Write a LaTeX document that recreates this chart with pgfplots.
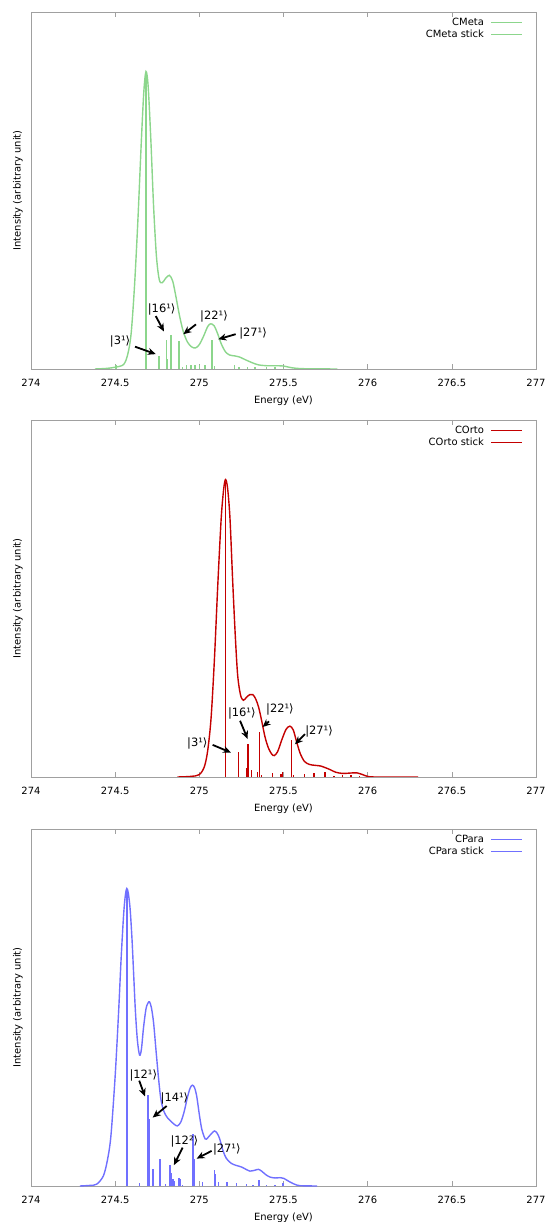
\documentclass[border=0pt]{standalone}
\usepackage{fontspec}
\setmainfont{DejaVu Sans}
\usepackage{pgfplots}
\pgfplotsset{compat=1.18}
\usetikzlibrary{arrows.meta}

\definecolor{cmeta}{RGB}{140,214,140}
\definecolor{corto}{RGB}{196,0,0}
\definecolor{cpara}{RGB}{112,112,255}
\definecolor{frame}{RGB}{160,160,160}

\pgfplotsset{
  panel/.style={
    scale only axis, width=505bp, height=357bp,
    xmin=274, xmax=277, ymin=0, ymax=1.2,
    xtick={274,274.5,275,275.5,276,276.5,277},
    xticklabels={274,274.5,275,275.5,276,276.5,277},
    ytick=\empty,
    tick align=inside, major tick length=5bp,
    axis line style={frame}, every tick/.style={frame},
    tick label style={font=\fontsize{10}{12}\selectfont},
    label style={font=\fontsize{10}{12}\selectfont},
    xticklabel style={anchor=center, yshift=-13.5bp, text height=7.3bp, text depth=0pt, inner sep=0pt},
    xlabel={Energy (eV)}, ylabel={Intensity (arbitrary unit)},
    xlabel style={at={(axis description cs:0.5,-0.09)}, anchor=center},
    ylabel style={at={(axis description cs:-0.026,0.5)}, anchor=center},
    legend plot pos=right, legend cell align=right,
    legend style={draw=none, fill=none, font=\fontsize{10}{12}\selectfont,
      at={(axis description cs:1,1)}, anchor=north east, xshift=-13bp, yshift=-5bp,
      inner sep=0pt, row sep=0.6bp, column sep=6bp,
      nodes={inner sep=0.5bp, text height=8bp, text depth=2bp}},
    legend image code/.code={\draw[#1] (0bp,0bp) -- (31bp,0bp);},
  },
  curve/.style={smooth, line width=1.4bp},
  stick/.style={ycomb, mark=none, line width=1.5bp},
}
\tikzset{
  ann/.style={-{Stealth[length=8bp,width=7bp]}, line width=1.8bp, black},
  lab/.style={inner sep=0pt, black, font=\fontsize{11.5}{13}\selectfont},
}

\begin{document}
\begin{tikzpicture}
\useasboundingbox (0,0) rectangle (546bp,1222bp);

% ---- CMeta
\begin{axis}[panel, at={(31bp,853bp)}, anchor=south west]
\addplot[curve, draw=cmeta, forget plot] coordinates {
(274.38,0) (274.45,0.002) (274.50,0.006) (274.55,0.015) (274.575,0.05)
(274.595,0.12) (274.615,0.28) (274.635,0.50) (274.655,0.76) (274.670,0.93)
(274.683,1.0) (274.696,0.95) (274.712,0.77) (274.728,0.55) (274.745,0.38)
(274.762,0.30) (274.78,0.29) (274.80,0.305) (274.822,0.315) (274.842,0.295)
(274.862,0.24) (274.882,0.18) (274.905,0.125) (274.93,0.09) (274.955,0.074)
(274.978,0.071) (275.00,0.082) (275.025,0.11) (275.05,0.143) (275.068,0.152)
(275.088,0.145) (275.108,0.12) (275.13,0.085) (275.155,0.058) (275.18,0.047)
(275.21,0.044) (275.24,0.040) (275.27,0.032) (275.31,0.022) (275.35,0.014)
(275.40,0.011) (275.45,0.011) (275.50,0.010) (275.55,0.004) (275.62,0.001)
(275.82,0)};
\addplot[stick, draw=cmeta, forget plot] coordinates {
(274.506,0.012) (274.683,0.99) (274.759,0.045) (274.806,0.098) (274.812,0.035)
(274.833,0.113) (274.880,0.095) (274.90,0.008) (274.925,0.012) (274.95,0.012)
(274.975,0.015) (275.00,0.012) (275.035,0.012) (275.075,0.098) (275.09,0.01)
(275.21,0.012) (275.235,0.008) (275.285,0.008) (275.33,0.006) (275.40,0.008)
(275.45,0.006) (275.50,0.005) (275.58,0.004)};
\addlegendimage{draw=cmeta, line width=1.4bp}
\addlegendentry{CMeta}
\addlegendimage{draw=cmeta, line width=1.4bp}
\addlegendentry{CMeta stick}
\node[lab] at (axis cs:274.529,0.092) {|3¹⟩};
\draw[ann] (axis cs:274.618,0.075) -- (axis cs:274.741,0.05);
\node[lab] at (axis cs:274.776,0.199) {|16¹⟩};
\draw[ann] (axis cs:274.741,0.178) -- (axis cs:274.79,0.126);
\node[lab] at (axis cs:275.087,0.176) {|22¹⟩};
\draw[ann] (axis cs:274.98,0.15) -- (axis cs:274.905,0.117);
\node[lab] at (axis cs:275.319,0.118) {|27¹⟩};
\draw[ann] (axis cs:275.216,0.117) -- (axis cs:275.113,0.1);
\end{axis}

% ---- COrto
\begin{axis}[panel, at={(31bp,445bp)}, anchor=south west]
\addplot[curve, draw=corto, forget plot] coordinates {
(274.87,0) (274.95,0.002) (275.00,0.008) (275.03,0.035) (275.05,0.09)
(275.07,0.20) (275.09,0.40) (275.11,0.65) (275.13,0.87) (275.145,0.97)
(275.156,1.0) (275.168,0.97) (275.182,0.87) (275.198,0.66) (275.214,0.47)
(275.228,0.34) (275.245,0.275) (275.262,0.258) (275.28,0.268) (275.30,0.277)
(275.318,0.277) (275.335,0.262) (275.352,0.235) (275.37,0.19) (275.39,0.135)
(275.41,0.098) (275.43,0.077) (275.445,0.072) (275.465,0.085) (275.49,0.125)
(275.515,0.16) (275.538,0.171) (275.558,0.158) (275.578,0.118) (275.60,0.078)
(275.625,0.052) (275.655,0.042) (275.69,0.039) (275.72,0.037) (275.75,0.031)
(275.78,0.024) (275.81,0.016) (275.85,0.012) (275.89,0.013) (275.935,0.014)
(275.97,0.008) (276.00,0.002) (276.05,0) (276.30,0)};
\addplot[stick, draw=corto, forget plot] coordinates {
(275.156,0.99) (275.232,0.083) (275.281,0.03) (275.289,0.111) (275.311,0.025)
(275.345,0.016) (275.356,0.15) (275.37,0.008) (275.436,0.013) (275.485,0.01)
(275.495,0.016) (275.547,0.126) (275.56,0.008) (275.626,0.011) (275.681,0.014)
(275.747,0.017) (275.80,0.005) (275.85,0.006) (275.90,0.006) (275.95,0.004)};
\addlegendimage{draw=corto, line width=1.4bp}
\addlegendentry{COrto}
\addlegendimage{draw=corto, line width=1.4bp}
\addlegendentry{COrto stick}
\node[lab] at (axis cs:274.988,0.113) {|3¹⟩};
\draw[ann] (axis cs:275.079,0.108) -- (axis cs:275.188,0.082);
\node[lab] at (axis cs:275.252,0.214) {|16¹⟩};
\draw[ann] (axis cs:275.242,0.189) -- (axis cs:275.287,0.128);
\node[lab] at (axis cs:275.479,0.227) {|22¹⟩};
\draw[ann] (axis cs:275.414,0.187) -- (axis cs:275.376,0.168);
\node[lab] at (axis cs:275.711,0.153) {|27¹⟩};
\draw[ann] (axis cs:275.628,0.144) -- (axis cs:275.568,0.11);
\end{axis}

% ---- CPara
\begin{axis}[panel, at={(31bp,36bp)}, anchor=south west]
\addplot[curve, draw=cpara, forget plot] coordinates {
(274.29,0) (274.35,0.002) (274.39,0.006) (274.43,0.034) (274.455,0.09)
(274.475,0.17) (274.50,0.37) (274.52,0.58) (274.535,0.76) (274.55,0.91)
(274.56,0.975) (274.569,1.0) (274.578,0.985) (274.589,0.93) (274.60,0.83)
(274.61,0.71) (274.62,0.59) (274.632,0.49) (274.645,0.44) (274.656,0.46)
(274.668,0.53) (274.683,0.595) (274.695,0.615) (274.704,0.619) (274.715,0.60)
(274.728,0.55) (274.742,0.46) (274.758,0.36) (274.772,0.29) (274.79,0.25)
(274.81,0.23) (274.83,0.218) (274.852,0.207) (274.87,0.202) (274.89,0.215)
(274.91,0.25) (274.93,0.30) (274.946,0.33) (274.959,0.339) (274.972,0.33)
(274.985,0.30) (275.00,0.24) (275.015,0.19) (275.035,0.158) (275.05,0.162)
(275.07,0.175) (275.09,0.185) (275.105,0.178) (275.12,0.16) (275.14,0.12)
(275.16,0.093) (275.19,0.076) (275.22,0.069) (275.25,0.064) (275.28,0.055)
(275.30,0.05) (275.33,0.053) (275.351,0.056) (275.37,0.05) (275.395,0.038)
(275.42,0.03) (275.45,0.027) (275.48,0.028) (275.50,0.026) (275.54,0.013)
(275.57,0.005) (275.60,0.001) (275.70,0)};
\addplot[stick, draw=cpara, forget plot] coordinates {
(274.569,0.99) (274.645,0.01) (274.696,0.305) (274.704,0.224) (274.724,0.058)
(274.767,0.09) (274.80,0.008) (274.827,0.07) (274.835,0.045) (274.845,0.022)
(274.852,0.017) (274.880,0.028) (274.886,0.022) (274.90,0.005) (274.961,0.174)
(274.969,0.09) (275.02,0.012) (275.09,0.053) (275.096,0.04) (275.114,0.012)
(275.164,0.014) (275.22,0.011) (275.28,0.006) (275.32,0.005) (275.355,0.019)
(275.40,0.004) (275.45,0.005) (275.496,0.011)};
\addlegendimage{draw=cpara, line width=1.4bp}
\addlegendentry{CPara}
\addlegendimage{draw=cpara, line width=1.4bp}
\addlegendentry{CPara stick}
\node[lab] at (axis cs:274.667,0.37) {|12¹⟩};
\draw[ann] (axis cs:274.643,0.354) -- (axis cs:274.677,0.301);
\node[lab] at (axis cs:274.852,0.294) {|14¹⟩};
\draw[ann] (axis cs:274.806,0.269) -- (axis cs:274.723,0.23);
\node[lab] at (axis cs:274.911,0.148) {|12²⟩};
\draw[ann] (axis cs:274.901,0.129) -- (axis cs:274.849,0.07);
\node[lab] at (axis cs:275.163,0.123) {|27¹⟩};
\draw[ann] (axis cs:275.073,0.118) -- (axis cs:274.984,0.092);
\end{axis}
\end{tikzpicture}
\end{document}
